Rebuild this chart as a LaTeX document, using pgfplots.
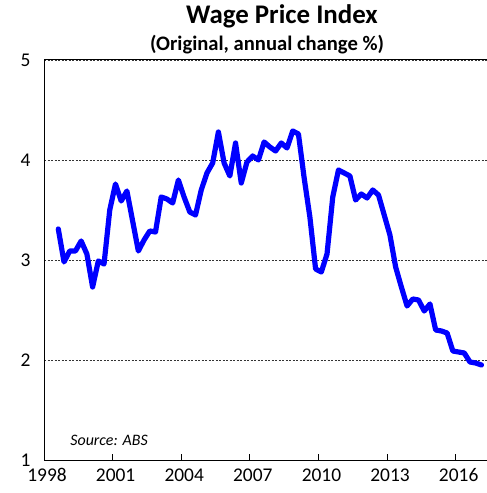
\documentclass[border=0pt]{standalone}
\usepackage{pgfplots}
\pgfplotsset{compat=1.18}
\usepackage{fontspec}
\setmainfont{Carlito}

\begin{document}
\begin{tikzpicture}[x=1bp,y=1bp]
\useasboundingbox (0,0) rectangle (487,493);
\begin{axis}[
  at={(44bp,33bp)}, anchor=south west,
  scale only axis,
  width=443bp, height=400bp,
  xmin=1998, xmax=2017.37,
  ymin=1, ymax=5,
  axis x line*=bottom,
  axis y line*=left,
  xtick={1998,2001,2004,2007,2010,2013,2016},
  ytick={1,2,3,4,5},
  xticklabel style={/pgf/number format/1000 sep={}, yshift=-5bp, xshift=3bp},
  /pgf/number format/assume math mode=true,
  tick label style={font=\fontsize{19.5}{21}\selectfont},
  yticklabel style={xshift=-10bp},
  tick align=inside,
  major tick length=6bp,
  ytick style={draw=none},
  xtick style={black, line width=0.8pt},
  axis line style={black, line width=1pt},
  ymajorgrids,
  major grid style={black!80, line width=0.8pt, dash pattern=on 2bp off 1.5bp},
  clip=false,
]
  \addplot[blue, line width=5.2bp, line join=round, line cap=round] coordinates {
    (1998.625,3.31) (1998.875,2.98) (1999.125,3.09) (1999.375,3.09)
    (1999.625,3.19) (1999.875,3.06) (2000.125,2.73) (2000.375,2.99)
    (2000.625,2.96) (2000.875,3.50) (2001.125,3.76) (2001.375,3.59)
    (2001.625,3.69) (2001.875,3.39) (2002.125,3.09) (2002.375,3.20)
    (2002.625,3.29) (2002.875,3.28) (2003.125,3.63) (2003.375,3.61)
    (2003.625,3.57) (2003.875,3.80) (2004.125,3.63) (2004.375,3.48)
    (2004.625,3.45) (2004.875,3.70) (2005.125,3.87) (2005.375,3.97)
    (2005.625,4.28) (2005.875,3.97) (2006.125,3.84) (2006.375,4.17)
    (2006.625,3.77) (2006.875,3.98) (2007.125,4.04) (2007.375,4.00)
    (2007.625,4.18) (2007.875,4.13) (2008.125,4.09) (2008.375,4.17)
    (2008.625,4.12) (2008.875,4.29) (2009.125,4.26) (2009.375,3.82)
    (2009.625,3.43) (2009.875,2.91) (2010.125,2.88) (2010.375,3.06)
    (2010.625,3.63) (2010.875,3.90) (2011.125,3.87) (2011.375,3.84)
    (2011.625,3.60) (2011.875,3.66) (2012.125,3.62) (2012.375,3.70)
    (2012.625,3.65) (2012.875,3.45) (2013.125,3.25) (2013.375,2.93)
    (2013.625,2.73) (2013.875,2.54) (2014.125,2.61) (2014.375,2.60)
    (2014.625,2.49) (2014.875,2.56) (2015.125,2.30) (2015.375,2.29)
    (2015.625,2.27) (2015.875,2.09) (2016.125,2.08) (2016.375,2.07)
    (2016.625,1.98) (2016.875,1.97) (2017.125,1.95)
  };
  \draw[black, line width=1pt] (axis cs:1998,5) -- (axis cs:2017.37,5);
  \node[anchor=west, font=\fontsize{16}{18}\selectfont\itshape] at (axis cs:1999.0,1.2) {Source: ABS};
\end{axis}
\node[font=\fontsize{27}{30}\selectfont\bfseries] at (282,477) {Wage Price Index};
\node[font=\fontsize{20.7}{24}\selectfont\bfseries] at (267,448) {(Original, annual change \%)};
\end{tikzpicture}
\end{document}
